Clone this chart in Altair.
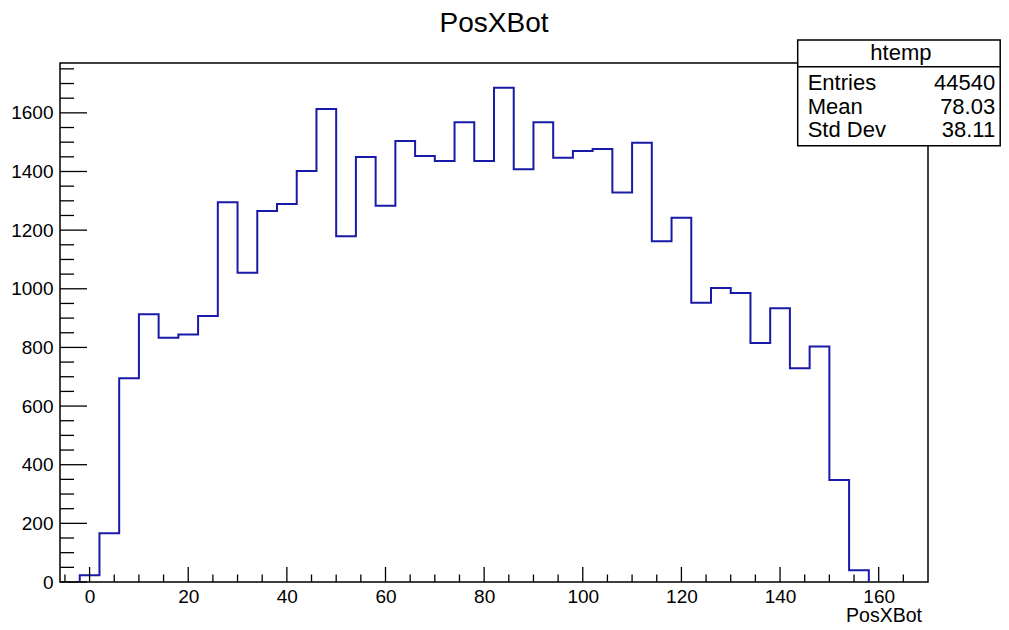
import altair as alt
import pandas as pd

# ---- data ----
bin_low = [-2, 2, 6, 10, 14, 18, 22, 26, 30, 34, 38, 42, 46, 50, 54, 58, 62, 66, 70, 74,
           78, 82, 86, 90, 94, 98, 102, 106, 110, 114, 118, 122, 126, 130, 134, 138, 142, 146, 150, 154]
bin_high_last = 158
counts = [23, 166, 695, 913, 833, 844, 907, 1295, 1055, 1265, 1289, 1402, 1613, 1179, 1449, 1283,
          1504, 1453, 1436, 1568, 1436, 1686, 1408, 1568, 1447, 1470, 1477, 1328, 1498, 1162,
          1242, 952, 1003, 986, 815, 934, 729, 803, 348, 40]

x_major = [0, 20, 40, 60, 80, 100, 120, 140, 160]
x_minor = [-5, 5, 10, 15, 25, 30, 35, 45, 50, 55, 65, 70, 75, 85, 90, 95, 105, 110, 115,
           125, 130, 135, 145, 150, 155, 165]
y_major = [0, 200, 400, 600, 800, 1000, 1200, 1400, 1600]
y_minor = [50, 100, 150, 250, 300, 350, 450, 500, 550, 650, 700, 750, 850, 900, 950,
           1050, 1100, 1150, 1250, 1300, 1350, 1450, 1500, 1550, 1650, 1700, 1750]

title_text = ["PosXBot"]
x_title = ["PosXBot"]
stat_header = ["htemp"]
stat_names = ["Entries", "Mean", "Std Dev"]
stat_values = ["44540", "78.03", "38.11"]

W, H = 868, 519
FONT = "Liberation Sans"
LINE = "#1a1aa8"

# step outline points
xs = [bin_low[0]] + bin_low + [bin_high_last, bin_high_last]
ys = [0] + counts + [counts[-1], 0]
step = pd.DataFrame({"x": xs, "y": ys, "o": list(range(len(xs)))})

xscale = alt.Scale(domain=[-6, 170], nice=False, zero=False)
yscale = alt.Scale(domain=[0, 1770], nice=False, zero=True)

hist = alt.Chart(step).mark_line(
    interpolate="step-after", color=LINE, strokeWidth=2
).encode(
    x=alt.X("x:Q", scale=xscale, axis=alt.Axis(
        values=x_major, format="d", ticks=False, domain=False, grid=False, title=None,
        labelFont=FONT, labelFontSize=19, labelColor="black", labelPadding=5,
        labelFlush=False)),
    y=alt.Y("y:Q", scale=yscale, axis=alt.Axis(
        values=y_major, format="d", ticks=False, domain=False, grid=False, title=None,
        labelFont=FONT, labelFontSize=19, labelColor="black", labelPadding=7,
        labelFlush=False)),
    order="o:Q",
)

def xticks(vals, length):
    return alt.Chart(pd.DataFrame({"v": vals})).mark_rule(color="black", strokeWidth=1.3).encode(
        x=alt.X("v:Q", scale=xscale), y=alt.value(H), y2=alt.value(H - length))

def yticks(vals, length):
    return alt.Chart(pd.DataFrame({"v": vals})).mark_rule(color="black", strokeWidth=1.3).encode(
        y=alt.Y("v:Q", scale=yscale), x=alt.value(0), x2=alt.value(length))

title = alt.Chart(pd.DataFrame({"t": title_text})).mark_text(
    font=FONT, fontSize=28, color="black", align="center", baseline="alphabetic"
).encode(text="t:N", x=alt.value(W / 2), y=alt.value(-31.3))

xtitle = alt.Chart(pd.DataFrame({"t": x_title})).mark_text(
    font=FONT, fontSize=19.5, color="black", align="right", baseline="alphabetic"
).encode(text="t:N", x=alt.value(862), y=alt.value(558.5))

BOX_L, BOX_R = 737.7, 940.2
box = alt.Chart(pd.DataFrame({"t": stat_header})).mark_rect(
    fill="white", stroke="black", strokeWidth=1.5
).encode(x=alt.value(BOX_L), x2=alt.value(BOX_R), y=alt.value(-23), y2=alt.value(82.7))

sep = alt.Chart(pd.DataFrame({"t": stat_header})).mark_rule(
    color="black", strokeWidth=1.5
).encode(x=alt.value(BOX_L), x2=alt.value(BOX_R), y=alt.value(3.7))

header = alt.Chart(pd.DataFrame({"t": stat_header})).mark_text(
    font=FONT, fontSize=22, color="black", align="center", baseline="alphabetic"
).encode(text="t:N", x=alt.value((BOX_L + BOX_R) / 2 + 2), y=alt.value(-3))

layers = [hist, xticks(x_major, 15), xticks(x_minor, 7.5), yticks(y_major, 27),
          yticks(y_minor, 14), title, xtitle, box, sep, header]

row_base = [27, 50.7, 74.3]
for i in range(len(stat_names)):
    d = pd.DataFrame({"n": [stat_names[i]], "v": [stat_values[i]]})
    layers.append(alt.Chart(d).mark_text(
        font=FONT, fontSize=22, color="black", align="left", baseline="alphabetic"
    ).encode(text="n:N", x=alt.value(BOX_L + 10), y=alt.value(row_base[i])))
    layers.append(alt.Chart(d).mark_text(
        font=FONT, fontSize=22, color="black", align="right", baseline="alphabetic"
    ).encode(text="v:N", x=alt.value(BOX_R - 5), y=alt.value(row_base[i])))

chart = alt.layer(*layers).properties(
    width=W, height=H,
    background="white",
    autosize=alt.AutoSizeParams(type="none"),
    padding={"left": 52, "top": 55, "right": 73, "bottom": 40},
).configure_view(stroke="black", strokeWidth=1.5)

chart.save("out.html", embed_options={"renderer": "svg", "actions": False})
